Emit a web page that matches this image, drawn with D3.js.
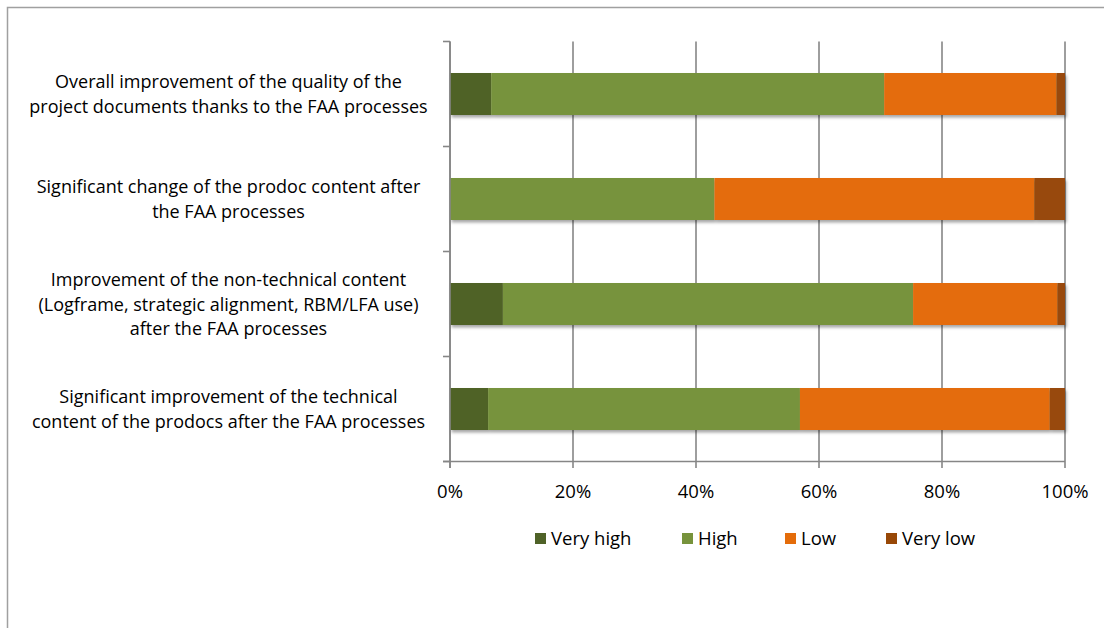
<!DOCTYPE html>
<html>
<head>
<meta charset="utf-8">
<script src="https://cdn.jsdelivr.net/npm/d3@7"></script>
<style>
  html, body { margin: 0; padding: 0; background: #fff; }
  svg { display: block; }
  text { font-family: "Open Sans", "Noto Sans", sans-serif; fill: #000; }
</style>
</head>
<body>
<svg id="chart" width="1104" height="628"></svg>
<script>
// Survey statements (wrapped as in the label column)
const categories = [
  ["Overall improvement of the quality of the", "project documents thanks to the FAA processes"],
  ["Significant change of the prodoc content after", "the FAA processes"],
  ["Improvement of the non-technical content", "(Logframe, strategic alignment, RBM/LFA use)", "after the FAA processes"],
  ["Significant improvement of the technical", "content of the prodocs after the FAA processes"]
];
const seriesNames = ["Very high", "High", "Low", "Very low"];
// Share of answers per statement, in percent
const veryHigh = [6.7, 0, 8.6, 6.2];
const high     = [63.9, 43.0, 66.7, 50.7];
const low      = [28.0, 52.0, 23.45, 40.6];
const veryLow  = [1.4, 5.0, 1.25, 2.5];
const xTicks = [0, 20, 40, 60, 80, 100];
const tickLabels = ["0%", "20%", "40%", "60%", "80%", "100%"];
const colors = ["#4F6228", "#77933C", "#E46C0A", "#984807"];

const svg = d3.select("#chart");

// outer chart frame
svg.append("rect")
  .attr("x", 7.5).attr("y", 7.5)
  .attr("width", 1300).attr("height", 800)
  .attr("fill", "none").attr("stroke", "#a0a0a0").attr("stroke-width", 1.5);

const x = d3.scaleLinear().domain([0, 100]).range([450, 1065]);
const keys = categories.map((c, i) => i);
const y = d3.scaleBand().domain(keys).range([41.5, 461.5])
  .paddingInner(0.6).paddingOuter(0.3);

const plotTop = 41.5, plotBottom = 461.5;
const gridColor = "#868686";

const defs = svg.append("defs");
const f = defs.append("filter").attr("id", "shadow")
  .attr("x", "-5%").attr("y", "-20%").attr("width", "110%").attr("height", "150%");
f.append("feDropShadow").attr("dx", 1.5).attr("dy", 2.5)
  .attr("stdDeviation", 1.6).attr("flood-color", "#000").attr("flood-opacity", 0.35);

// vertical gridlines with ticks below the axis
svg.append("g").selectAll("line").data(xTicks).join("line")
  .attr("x1", d => x(d)).attr("x2", d => x(d))
  .attr("y1", plotTop).attr("y2", plotBottom + 6.5)
  .attr("stroke", gridColor).attr("stroke-width", 1.6);

// category axis
const stepEdges = d3.range(categories.length + 1).map(i => plotTop + i * y.step());
svg.append("g").selectAll("line").data(stepEdges).join("line")
  .attr("x1", x(0) - 7).attr("x2", x(0))
  .attr("y1", d => d).attr("y2", d => d)
  .attr("stroke", gridColor).attr("stroke-width", 1.6);
svg.append("line")
  .attr("x1", x(0) - 7).attr("x2", x(100))
  .attr("y1", plotBottom).attr("y2", plotBottom)
  .attr("stroke", gridColor).attr("stroke-width", 1.6);

// stacked bars
const rows = keys.map(i => ({ i, "Very high": veryHigh[i], "High": high[i], "Low": low[i], "Very low": veryLow[i] }));
const stacked = d3.stack().keys(seriesNames)(rows);
const barG = svg.append("g").attr("filter", "url(#shadow)");
stacked.forEach((layer, si) => {
  barG.selectAll(null).data(layer.filter(d => d[1] - d[0] > 0)).join("rect")
    .attr("x", d => x(d[0]))
    .attr("y", d => y(d.data.i))
    .attr("width", d => x(d[1]) - x(d[0]))
    .attr("height", y.bandwidth())
    .attr("fill", colors[si]);
});

// axis line at 0%
svg.append("line")
  .attr("x1", x(0)).attr("x2", x(0))
  .attr("y1", plotTop).attr("y2", plotBottom + 6.5)
  .attr("stroke", gridColor).attr("stroke-width", 1.6);

// percentage labels
svg.append("g").selectAll("text").data(xTicks).join("text")
  .attr("x", d => x(d)).attr("y", 497.5)
  .attr("text-anchor", "middle")
  .attr("font-size", 18.5)
  .text((d, i) => tickLabels[i]);

// category labels
const lineH = 24.5;
const labelG = svg.append("g");
categories.forEach((lines, i) => {
  const cy = y(i) + y.bandwidth() / 2;
  const t = labelG.append("text")
    .attr("text-anchor", "middle")
    .attr("font-size", 18);
  lines.forEach((ln, k) => {
    t.append("tspan")
      .attr("x", 228.5)
      .attr("y", cy + (k - (lines.length - 1) / 2) * lineH + 6.5)
      .text(ln);
  });
});

// legend
const legendX = [535, 682, 785, 886];
const lg = svg.append("g");
seriesNames.forEach((name, i) => {
  lg.append("rect").attr("x", legendX[i]).attr("y", 533)
    .attr("width", 11).attr("height", 11).attr("fill", colors[i]);
  lg.append("text").attr("x", legendX[i] + 16).attr("y", 545)
    .attr("font-size", 18.5).text(name);
});
</script>
</body>
</html>
